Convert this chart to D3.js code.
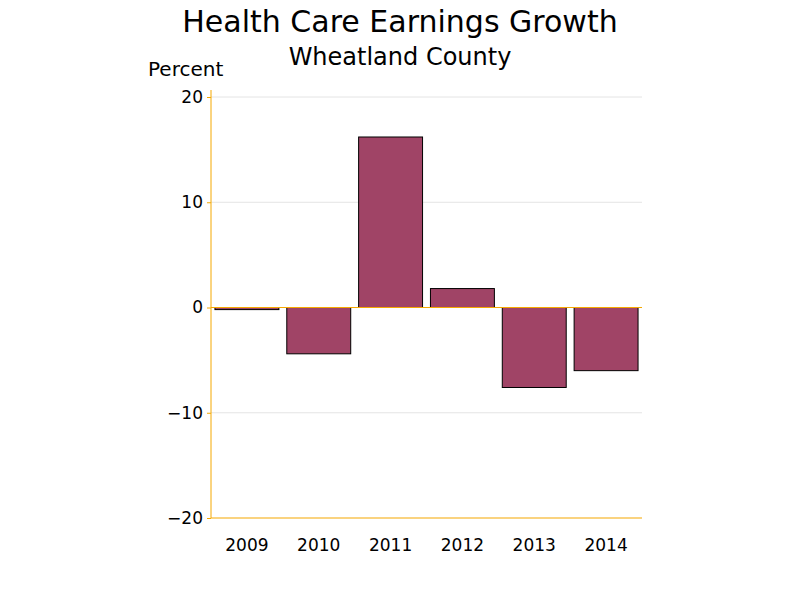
<!DOCTYPE html>
<html><head><meta charset="utf-8">
<script src="https://cdn.jsdelivr.net/npm/d3@7"></script>
<style>body{margin:0;background:#fff;} text{font-family:"DejaVu Sans",sans-serif;}</style>
</head><body><div id="chart"></div>
<script>
var years = ["2009", "2010", "2011", "2012", "2013", "2014"];
var growth = [-0.2, -4.4, 16.2, 1.8, -7.6, -6.0];
var yTicks = [-20, -10, 0, 10, 20];

var svg = d3.select("#chart").append("svg").attr("width", 800).attr("height", 600);

var x = d3.scaleBand().domain(years).range([211, 642]).paddingInner(0.11).paddingOuter(0.055);
var y = d3.scaleLinear().domain([-20, 20]).range([518, 97]);

// gridlines
svg.selectAll(".grid").data([20, 10, -10]).enter().append("line")
    .attr("x1", 211).attr("x2", 642)
    .attr("y1", function(d) { return y(d); }).attr("y2", function(d) { return y(d); })
    .attr("stroke", "#e4e4e4");

// bars
svg.selectAll("rect").data(growth).enter().append("rect")
    .attr("x", function(d, i) { return x(years[i]); })
    .attr("y", function(d) { return y(Math.max(0, d)); })
    .attr("width", x.bandwidth())
    .attr("height", function(d) { return Math.abs(y(d) - y(0)); })
    .attr("fill", "#a04466").attr("stroke", "#000").attr("stroke-width", 1);

// zero & bottom reference lines
svg.selectAll(".ref").data([0, -20]).enter().append("line")
    .attr("x1", 211).attr("x2", 642)
    .attr("y1", function(d) { return y(d); }).attr("y2", function(d) { return y(d); })
    .attr("stroke", "#f5a800").attr("stroke-width", 1.2);

// y axis
var ya = svg.append("g").attr("transform", "translate(211,0)")
    .call(d3.axisLeft(y).tickValues(yTicks).tickSize(4).tickPadding(4));
ya.select(".domain").attr("stroke", "#f5a800").attr("d", "M0,90V518");
ya.selectAll(".tick line").attr("stroke", "#f5a800");
ya.selectAll(".tick text").attr("font-size", 17).attr("fill", "#000");

// x labels
svg.selectAll(".xl").data(years).enter().append("text")
    .attr("x", function(d) { return x(d) + x.bandwidth() / 2; })
    .attr("y", 551).attr("text-anchor", "middle").attr("font-size", 17)
    .text(function(d) { return d; });

svg.append("text").attr("x", 400).attr("y", 32).attr("text-anchor", "middle")
    .attr("font-size", 30).text("Health Care Earnings Growth");
svg.append("text").attr("x", 400).attr("y", 65).attr("text-anchor", "middle")
    .attr("font-size", 24).text("Wheatland County");
svg.append("text").attr("x", 148).attr("y", 76).attr("font-size", 20).text("Percent");
</script></body></html>
